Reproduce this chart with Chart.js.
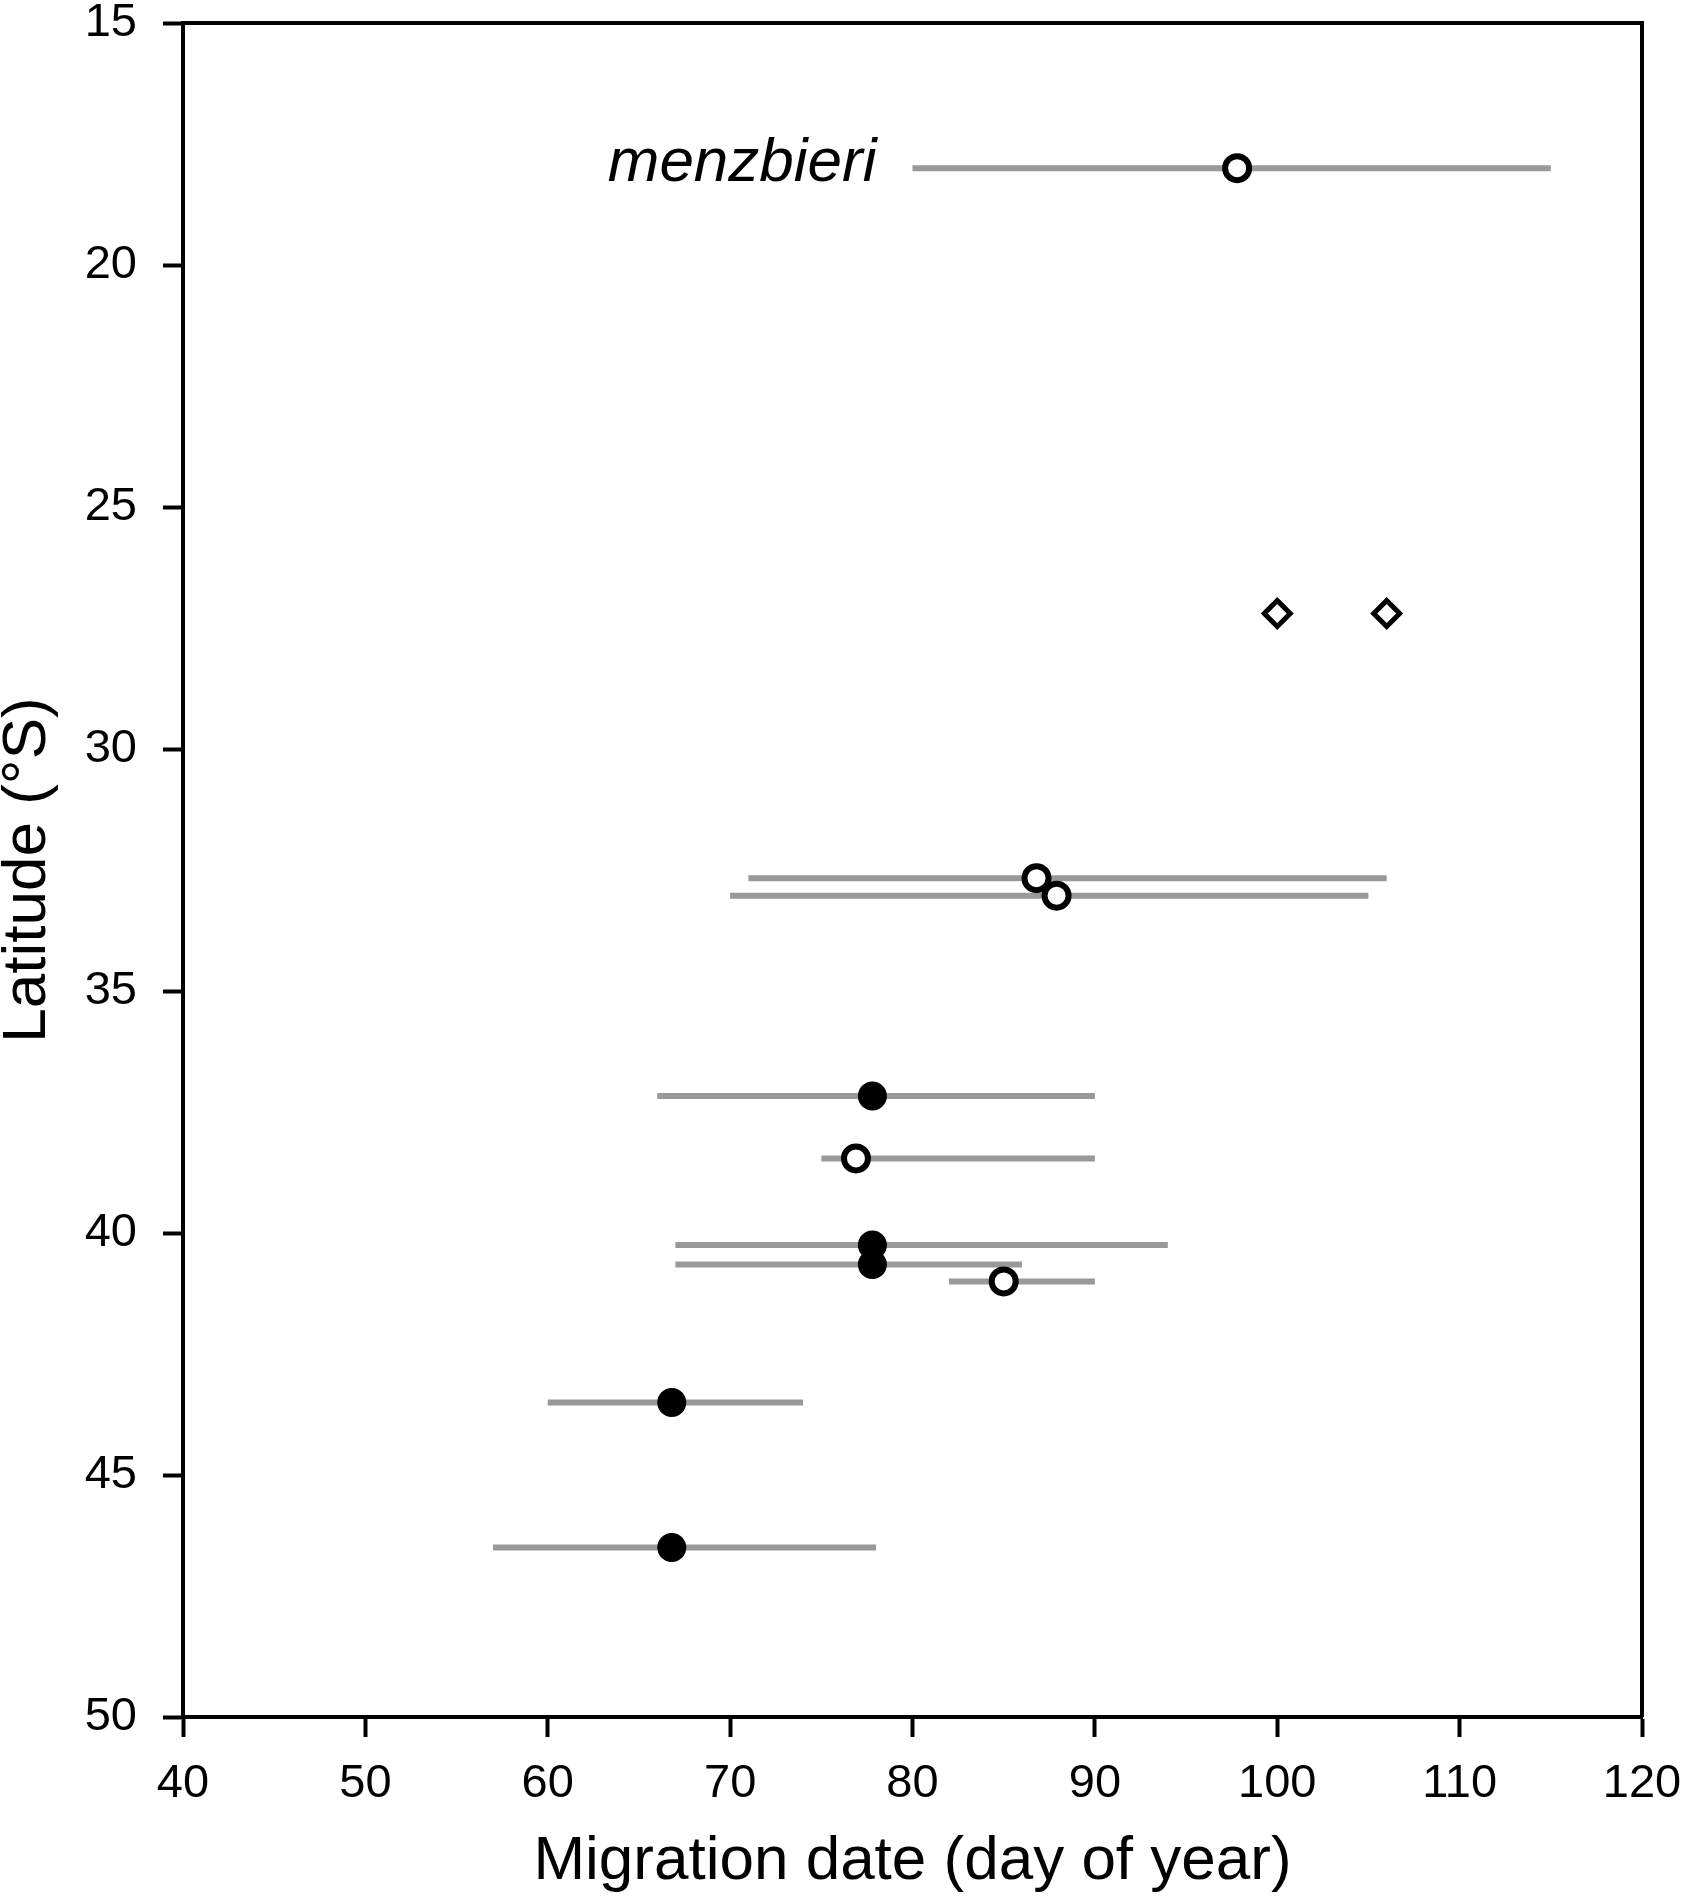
<!DOCTYPE html>
<html lang="en">
<head>
<meta charset="UTF-8">
<title>Migration date by latitude</title>
<script src="https://cdn.jsdelivr.net/npm/chart.js@4.4.1/dist/chart.umd.min.js"></script>
<style>
    html, body { margin: 0; padding: 0; background: #fff; }
    canvas { display: block; }
</style>
</head>
<body>
<canvas id="migChart" width="1683" height="1904"></canvas>
<script>
    // Latitude (°S) of each population
    const latitudes = [18.0, 32.67, 33.03, 37.17, 38.46, 40.25, 40.65, 41.0, 43.5, 46.5];
    // Mean migration date (day of year)
    const meanDates = [97.8, 86.8, 87.9, 77.8, 76.9, 77.8, 77.8, 85, 66.8, 66.8];
    // Range of migration dates
    const rangeStart = [80, 71, 70, 66, 75, 67, 67, 82, 60, 57];
    const rangeEnd = [115, 106, 105, 90, 90, 94, 86, 90, 74, 78];
    // true = open circle, false = filled circle
    const openMarker = [true, true, true, false, true, false, false, true, false, false];

    // Single records without a range (diamonds)
    const singleDates = [100, 106];
    const singleLatitudes = [27.2, 27.2];

    const speciesLabel = 'menzbieri';
    const speciesLabelRow = 0;

    const xTicks = { min: 40, max: 120, step: 10 };
    const yTicks = { min: 15, max: 50, step: 5 };

    const font = '"Liberation Sans", Arial, sans-serif';

    // gray range lines, one dataset each
    const rangeSets = latitudes.map((lat, i) => ({
        data: [{ x: rangeStart[i], y: lat }, { x: rangeEnd[i], y: lat }],
        showLine: true,
        borderColor: '#999999',
        borderWidth: 6,
        borderCapStyle: 'butt',
        pointRadius: 0,
        order: 3
    }));

    const openPts = [];
    const filledPts = [];
    latitudes.forEach((lat, i) => {
        (openMarker[i] ? openPts : filledPts).push({ x: meanDates[i], y: lat });
    });

    const config = {
        type: 'scatter',
        data: {
            datasets: [
                ...rangeSets,
                {
                    data: filledPts,
                    pointStyle: 'circle',
                    pointRadius: 14.5,
                    backgroundColor: '#000',
                    borderColor: '#000',
                    borderWidth: 0,
                    order: 1
                },
                {
                    data: openPts,
                    pointStyle: 'circle',
                    pointRadius: 12,
                    backgroundColor: '#fff',
                    borderColor: '#000',
                    borderWidth: 6,
                    order: 1
                },
                {
                    data: singleDates.map((d, i) => ({ x: d, y: singleLatitudes[i] })),
                    pointStyle: 'rectRot',
                    pointRadius: 13,
                    backgroundColor: '#fff',
                    borderColor: '#000',
                    borderWidth: 5,
                    order: 1
                }
            ]
        },
        options: {
            responsive: false,
            devicePixelRatio: 1,
            animation: false,
            layout: { padding: { top: 23, right: 41, left: 0, bottom: 0 } },
            plugins: {
                legend: { display: false },
                tooltip: { enabled: false }
            },
            scales: {
                x: {
                    type: 'linear',
                    min: xTicks.min,
                    max: xTicks.max,
                    afterFit: s => {
                        s.height = 187;
                        s.paddingLeft = 0;
                        s.paddingRight = 0;
                    },
                    ticks: {
                        stepSize: xTicks.step,
                        color: '#000',
                        padding: 24,
                        font: { family: font, size: 47, lineHeight: 1 }
                    },
                    grid: {
                        drawOnChartArea: false,
                        drawTicks: true,
                        tickLength: 20,
                        tickWidth: 4,
                        tickColor: '#000'
                    },
                    border: { display: true, color: '#000', width: 4 },
                    title: {
                        display: true,
                        text: 'Migration date (day of year)',
                        color: '#000',
                        font: { family: font, size: 62, lineHeight: 1 },
                        padding: { top: 0, bottom: 11 }
                    }
                },
                y: {
                    type: 'linear',
                    reverse: true,
                    min: yTicks.min,
                    max: yTicks.max,
                    afterFit: s => {
                        s.width = 183;
                        s.paddingTop = 0;
                        s.paddingBottom = 0;
                    },
                    ticks: {
                        stepSize: yTicks.step,
                        color: '#000',
                        padding: 26,
                        font: { family: font, size: 47, lineHeight: 1 }
                    },
                    grid: {
                        drawOnChartArea: false,
                        drawTicks: true,
                        tickLength: 20,
                        tickWidth: 4,
                        tickColor: '#000'
                    },
                    border: { display: true, color: '#000', width: 4 },
                    title: {
                        display: true,
                        text: 'Latitude (°S)',
                        color: '#000',
                        font: { family: font, size: 62, lineHeight: 1 },
                        padding: { top: -3, bottom: 0 }
                    }
                }
            }
        },
        plugins: [{
            id: 'frameAndLabel',
            afterDraw(chart) {
                const { ctx, chartArea: a, scales } = chart;
                ctx.save();
                ctx.strokeStyle = '#000';
                ctx.lineWidth = 4;
                ctx.beginPath();
                ctx.moveTo(a.left, a.top);
                ctx.lineTo(a.right, a.top);
                ctx.lineTo(a.right, a.bottom);
                ctx.stroke();

                // species name next to its range line
                ctx.font = 'italic 62px ' + font;
                ctx.fillStyle = '#000';
                ctx.textAlign = 'right';
                ctx.textBaseline = 'middle';
                const x = scales.x.getPixelForValue(rangeStart[speciesLabelRow]) - 36;
                const y = scales.y.getPixelForValue(latitudes[speciesLabelRow]) - 4;
                ctx.fillText(speciesLabel, x, y);
                ctx.restore();
            }
        }]
    };

    const chart = new Chart(document.getElementById('migChart'), config);
</script>
</body>
</html>
